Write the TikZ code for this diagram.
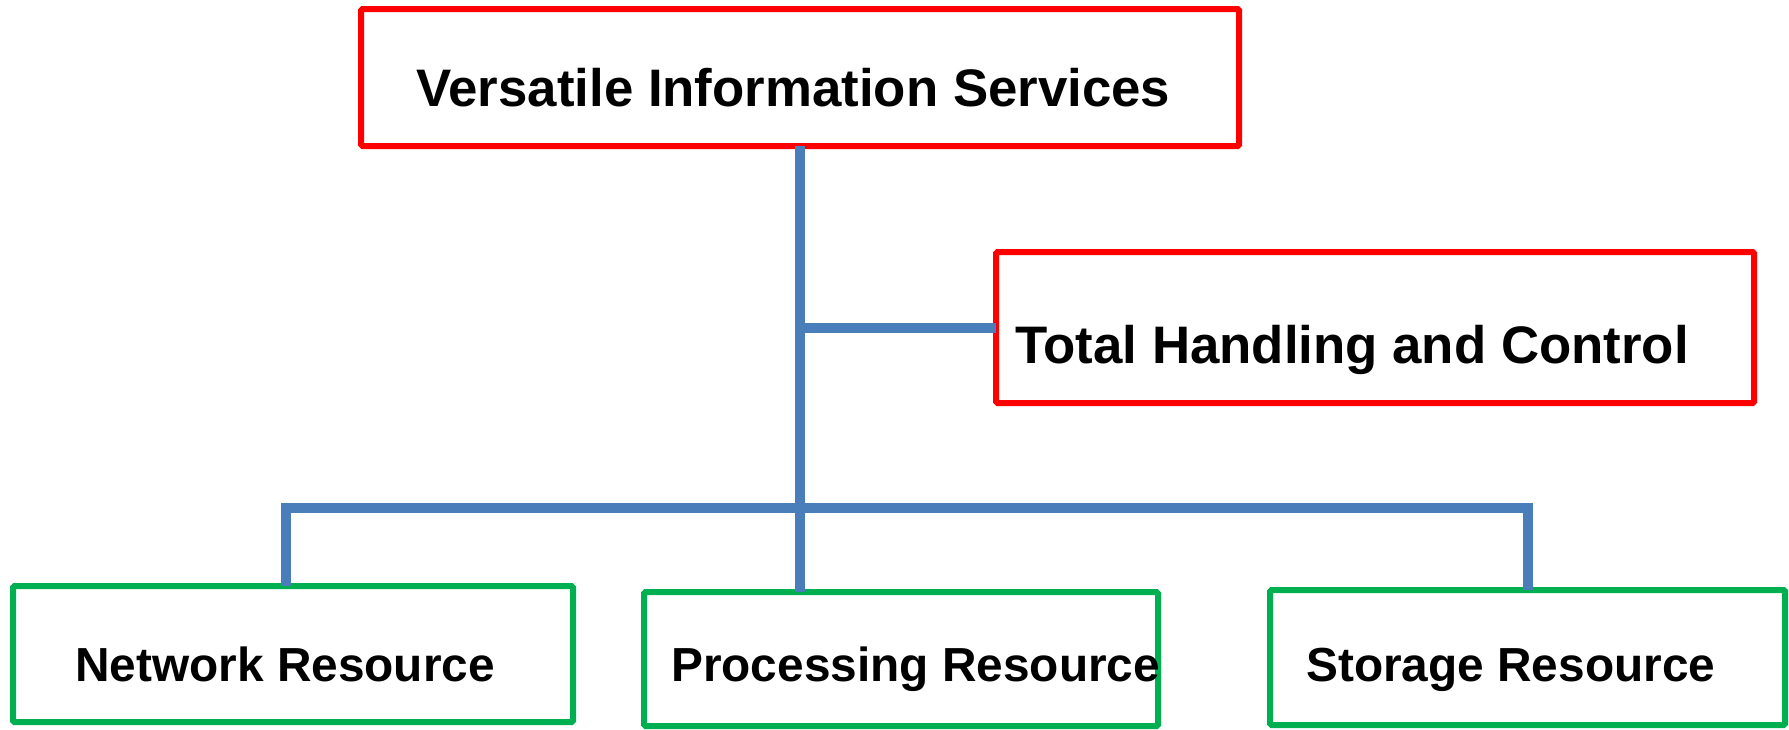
\documentclass[tikz,border=0pt]{standalone}
\usepackage{fontspec}
\setmainfont{Liberation Sans}
\definecolor{boxred}{RGB}{255,0,0}
\definecolor{boxgreen}{RGB}{0,176,80}
\definecolor{linkblue}{RGB}{74,126,187}
\begin{document}
\begin{tikzpicture}[x=1pt, y=-1pt,
    redbox/.style={draw=boxred, line width=6pt, rounded corners=1.5pt, anchor=north west, inner sep=0pt, outer sep=0pt},
    greenbox/.style={draw=boxgreen, line width=6pt, rounded corners=1.5pt, anchor=north west, inner sep=0pt, outer sep=0pt},
    lbl/.style={anchor=base west, inner sep=0pt, font=\bfseries\fontsize{52.8}{60}\selectfont},
    smalllbl/.style={lbl, font=\bfseries\fontsize{47.8}{56}\selectfont},
    link/.style={draw=linkblue, line width=10pt}]
    \useasboundingbox (0,0) rectangle (1789,729);

    % top level boxes
    \node [redbox, minimum width=878, minimum height=137] (vis) at (361,9) {};
    \node [lbl] (vistxt) at (416,106) {Versatile Information Services};
    \node [redbox, minimum width=758, minimum height=151] (thc) at (996,252) {};
    \node [lbl] (thctxt) at (1015,363) {Total Handling and Control};

    % resource boxes
    \node [greenbox, minimum width=560, minimum height=136] (net) at (13,586) {};
    \node [smalllbl] (nettxt) at (75,681) {Network Resource};
    \node [greenbox, minimum width=514, minimum height=134] (proc) at (644,592) {};
    \node [smalllbl] (proctxt) at (671,681) {Processing Resource};
    \node [greenbox, minimum width=515, minimum height=135] (stor) at (1270,590) {};
    \node [smalllbl] (stortxt) at (1306,681) {Storage Resource};

    % connectors
    \coordinate (bus) at (800,508);
    \draw [link] (vis.south) -- (vis.south |- proc.north);
    \draw [link] (vis.south |- thc.west) -- (thc.west);
    \draw [link] ([xshift=-7]net.north) |- (bus) -| (stor.north);
\end{tikzpicture}
\end{document}
